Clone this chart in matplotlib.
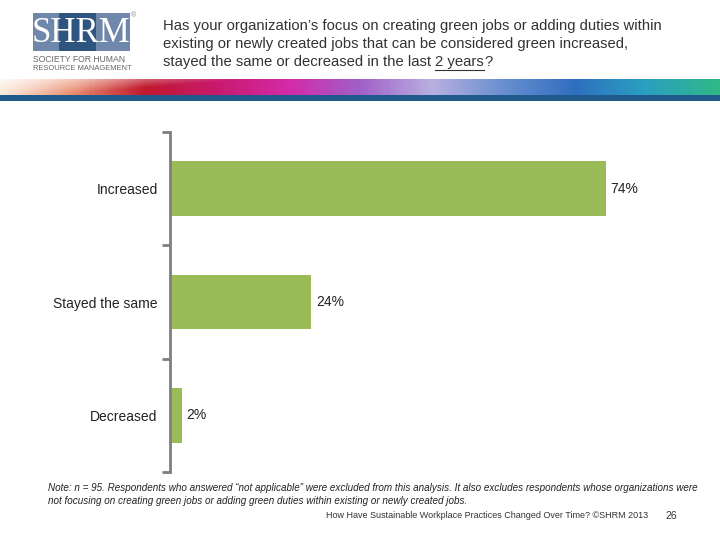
import matplotlib
matplotlib.use("Agg")
import matplotlib.pyplot as plt
import numpy as np
from matplotlib.colors import LinearSegmentedColormap
from matplotlib.patches import Rectangle

plt.rcParams["font.family"] = ["Liberation Sans", "DejaVu Sans"]

categories = ["Increased", "Stayed the same", "Decreased"]
values = [74, 24, 2]
value_labels = ["74%", "24%", "2%"]

title_lines = [
    "Has your organization\u2019s focus on creating green jobs or adding duties within",
    "existing or newly created jobs that can be considered green increased,",
    "stayed the same or decreased in the last ",
]
title_tail = "2 years"
note_text = (
    "Note: n = 95. Respondents who answered \u201cnot applicable\u201d were excluded from this analysis. "
    "It also excludes respondents whose organizations were\n"
    "not focusing on creating green jobs or adding green duties within existing or newly created jobs."
)
footer_text = "How Have Sustainable Workplace Practices Changed Over Time? \u00a9SHRM 2013"
page_no = "26"

W, H = 720, 540
fig = plt.figure(figsize=(7.2, 5.4), dpi=100)


def fx(px):
    return px / W


def fy(py):
    return 1 - py / H


# header band (decorative gradient)
band = fig.add_axes([0, fy(96), 1, (96 - 79) / H])
band.set_axis_off()
cmap = LinearSegmentedColormap.from_list(
    "band",
    ["#fbe3cf", "#e88a6a", "#c0182e", "#c81a6e", "#d42aa8", "#a060c8",
     "#b8b0e0", "#6a8fd0", "#2f6fc0", "#2aa0c0", "#30b888"],
)
grad = np.linspace(0, 1, 400)[None, :]
rows = np.linspace(0, 1, 20)[:, None]
img = cmap(np.repeat(grad, 20, axis=0))
img[..., 3] = np.clip(0.25 + 0.75 * np.minimum(1, grad * 3 + rows * 0.8), 0, 1)
band.imshow(img, aspect="auto", extent=[0, 1, 0, 1])
band.set_xlim(0, 1)
band.set_ylim(0, 1)
fig.patches.append(Rectangle((0, fy(101)), 1, (101 - 95) / H, transform=fig.transFigure,
                             facecolor="#205a8a", edgecolor="none"))

# logo
fig.patches.append(Rectangle((fx(33), fy(51)), fx(97), (51 - 13) / H, transform=fig.transFigure,
                             facecolor="#6f87aa", edgecolor="none"))
fig.patches.append(Rectangle((fx(59), fy(51)), fx(37), (51 - 13) / H, transform=fig.transFigure,
                             facecolor="#2e5480", edgecolor="none"))
fig.text(fx(81), fy(33), "SHRM", fontsize=25, family="Liberation Serif", color="white",
         ha="center", va="center")
fig.text(fx(131), fy(16), "\u00ae", fontsize=5, color="#888888", ha="left", va="center")
fig.text(fx(33), fy(59), "SOCIETY FOR HUMAN", fontsize=6.2, color="#666666", ha="left", va="center")
fig.text(fx(33), fy(68), "RESOURCE MANAGEMENT", fontsize=5.4, color="#666666", ha="left", va="center")

# title
tfs = 10.7
for i, line in enumerate(title_lines):
    fig.text(fx(163), fy(26 + 18 * i), line, fontsize=tfs, color="#333333", ha="left", va="center")
fig.canvas.draw()
renderer = fig.canvas.get_renderer()
probe = fig.text(fx(163), fy(62), title_lines[2], fontsize=tfs, ha="left", va="center", alpha=0)
bb = probe.get_window_extent(renderer)
tail = fig.text(bb.x1 / W, fy(62), title_tail, fontsize=tfs, color="#333333", ha="left", va="center")
tb = tail.get_window_extent(renderer)
fig.text(tb.x1 / W, fy(62), "?", fontsize=tfs, color="#333333", ha="left", va="center")
fig.lines.append(plt.Line2D([tb.x0 / W, tb.x1 / W], [fy(70), fy(70)], transform=fig.transFigure,
                            color="#333333", linewidth=0.8))
probe.remove()

# chart
ax = fig.add_axes([fx(170), fy(472), 1 - fx(170), (472 - 132) / H])
y = np.arange(len(categories))
ax.barh(y, values, height=0.48, color="#9bbb59")
for yi, v, lab in zip(y, values, value_labels):
    ax.text(v + 0.8, yi, lab, ha="left", va="center", fontsize=10, color="#222222")
ax.set_xlim(0, 550 / 5.89)
ax.set_ylim(2.5, -0.5)
ax.set_yticks(y)
ax.set_yticklabels(categories, fontsize=10, color="#222222")
ax.tick_params(axis="y", which="major", length=0, pad=9)
ax.set_yticks([-0.5, 0.5, 1.5, 2.5], minor=True)
ax.tick_params(axis="y", which="minor", length=6, width=2, color="#7f7f7f", direction="out")
ax.set_xticks([])
for s in ["top", "right", "bottom"]:
    ax.spines[s].set_visible(False)
ax.spines["left"].set_color("#7f7f7f")
ax.spines["left"].set_linewidth(2)
ax.patch.set_alpha(0)

# notes
fig.text(fx(48), fy(494.5), note_text, fontsize=7.15, style="italic", color="#222222",
         ha="left", va="center", linespacing=1.3)
fig.text(fx(648), fy(515), footer_text, fontsize=6.5, color="#333333", ha="right", va="center")
fig.text(fx(665), fy(516), page_no, fontsize=7.5, color="#333333", ha="left", va="center")

fig.savefig("out.png", dpi=100)
